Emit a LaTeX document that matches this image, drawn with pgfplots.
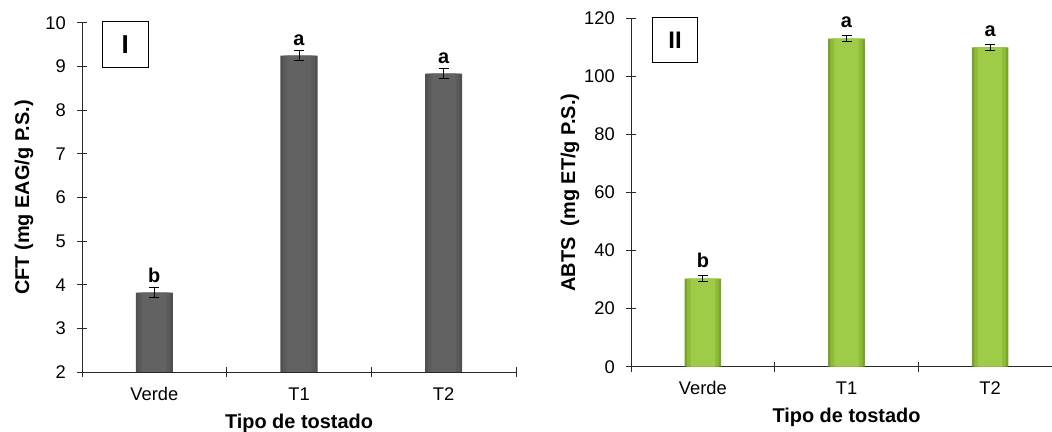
\documentclass[border=0pt]{standalone}
\usepackage{fontspec}
\setmainfont{Liberation Sans}
\usepackage{pgfplots}
\pgfplotsset{compat=1.18}
\usepackage{pgfplotstable}

\definecolor{grayedge}{RGB}{80,80,80}
\definecolor{graybtw}{RGB}{90,90,90}
\definecolor{graymid}{RGB}{98,98,98}
\definecolor{greenedge}{RGB}{122,164,40}
\definecolor{greenbtw}{RGB}{142,188,56}
\definecolor{greenmid}{RGB}{158,204,72}
\definecolor{axcol}{RGB}{40,40,40}

\newcommand\tickfont{\fontsize{18.4}{22}\selectfont}
\newcommand\labfont{\bfseries\fontsize{20}{24}\selectfont}

\pgfplotstableread{
x y e lab
0 3.82 0.11 b
1 9.25 0.11 a
2 8.84 0.12 a
}\cft
\pgfplotstableread{
x y e lab
0 30.3 1.0 b
1 113.0 1.1 a
2 110.0 1.0 a
}\abts

\pgfplotsset{mystyle/.style={
  scale only axis, anchor=south west,
  axis lines*=left,
  axis line style={axcol, line width=1bp},
  xmin=-0.5, xmax=2.5,
  xtick={-0.5,0.5,1.5,2.5}, xticklabels={},
  extra x ticks={0,1,2}, extra x tick labels={Verde,T1,T2},
  extra x tick style={major tick length=0pt},
  tick align=center, major tick length=10bp,
  tick style={axcol, line width=1bp},
  /pgf/number format/assume math mode=true,
  ticklabel style={font=\tickfont},
  xticklabel style={anchor=base, inner sep=0pt, yshift=-28bp},
  yticklabel style={anchor=east, inner sep=0pt, xshift=-11bp},
  label style={font=\labfont},
  xlabel={Tipo de tostado},
  xlabel style={anchor=base, inner sep=0pt},
  ylabel style={anchor=center, inner sep=0pt},
}}

\begin{document}
\begin{tikzpicture}
\begin{axis}[mystyle,
  at={(82bp,60bp)}, width=434bp, height=349bp,
  ymin=2, ymax=10, ytick={2,3,...,10},
  ylabel={CFT (mg EAG/g P.S.)},
  ylabel style={at={(axis description cs:-0.1336,0.5)}},
  xlabel style={at={(axis description cs:0.5,-0.1622)}},
]
\addplot[ybar, bar shift=0pt, bar width=0.256, draw=none, fill=grayedge] table[x=x, y=y] {\cft};
\addplot[ybar, bar shift=0pt, bar width=0.22, draw=none, fill=graybtw] table[x=x, y=y] {\cft};
\addplot[ybar, bar shift=0pt, bar width=0.17, draw=none, fill=graymid] table[x=x, y=y] {\cft};
\addplot[draw=none, mark=none, nodes near coords, point meta=explicit symbolic,
  every node near coord/.append style={anchor=base, inner sep=0pt, yshift=10bp, font=\labfont, text=black},
  error bars/.cd, y dir=both, y explicit,
  error bar style={black, line width=0.9bp},
  error mark options={black, mark size=5bp, line width=0.9bp, rotate=90}]
  table[x=x, y=y, y error=e, meta=lab] {\cft};
\end{axis}

\begin{axis}[mystyle,
  at={(631bp,65.3bp)}, width=431bp, height=348.4bp,
  ymin=0, ymax=120, ytick={0,20,...,120},
  ylabel={ABTS\ \ (mg ET/g P.S.)},
  ylabel style={at={(axis description cs:-0.1415,0.5)}},
  xlabel style={at={(axis description cs:0.5,-0.1604)}},
]
\addplot[ybar, bar shift=0pt, bar width=0.255, draw=none, fill=greenedge] table[x=x, y=y] {\abts};
\addplot[ybar, bar shift=0pt, bar width=0.22, draw=none, fill=greenbtw] table[x=x, y=y] {\abts};
\addplot[ybar, bar shift=0pt, bar width=0.17, draw=none, fill=greenmid] table[x=x, y=y] {\abts};
\addplot[draw=none, mark=none, nodes near coords, point meta=explicit symbolic,
  every node near coord/.append style={anchor=base, inner sep=0pt, yshift=11bp, font=\labfont, text=black},
  error bars/.cd, y dir=both, y explicit,
  error bar style={black, line width=0.9bp},
  error mark options={black, mark size=5bp, line width=0.9bp, rotate=90}]
  table[x=x, y=y, y error=e, meta=lab] {\abts};
\end{axis}

\node[draw=black, line width=1bp, minimum width=46bp, minimum height=46bp, inner sep=0pt,
  font=\bfseries\fontsize{26}{30}\selectfont] at (125.3bp,387.3bp) {I};
\node[draw=black, line width=1bp, minimum width=45.4bp, minimum height=45.4bp, inner sep=0pt,
  font=\bfseries\fontsize{24}{28}\selectfont] at (675bp,392bp) {II};

\pgfresetboundingbox
\useasboundingbox (0,0) rectangle (1052bp,432bp);
\end{tikzpicture}
\end{document}
